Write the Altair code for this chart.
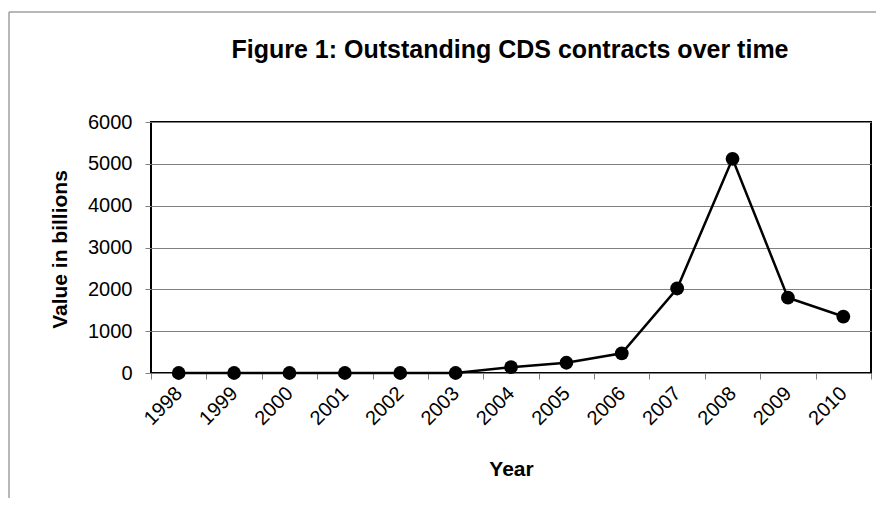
import altair as alt
import pandas as pd

years = ["1998", "1999", "2000", "2001", "2002", "2003", "2004",
         "2005", "2006", "2007", "2008", "2009", "2010"]
values = [0, 0, 0, 0, 0, 0, 140, 245, 470, 2020, 5120, 1800, 1350]
y_ticks = [0, 1000, 2000, 3000, 4000, 5000, 6000]
title_text = "Figure 1: Outstanding CDS contracts over time"

df = pd.DataFrame({"Year": years, "Value": values})

FONT = "Liberation Sans"

x_enc = alt.X(
    "Year:O",
    sort=years,
    bandPosition=0.5,
    scale=alt.Scale(type="band", paddingInner=0, paddingOuter=0),
    axis=alt.Axis(
        title="Year",
        titleFont=FONT, titleFontSize=21, titleFontWeight="bold", titleColor="black",
        titleX=360, titleY=102, titleBaseline="alphabetic", titleAlign="center",
        labelFont=FONT, labelFontSize=20, labelColor="black",
        labelAngle=315, labelAlign="right", labelBaseline="middle",
        labelPadding=11, tickSize=6, tickColor="#808080", tickWidth=1,
        tickBand="extent", domain=False, grid=False,
    ),
)
y_enc = alt.Y(
    "Value:Q",
    scale=alt.Scale(domain=[0, 6000], nice=False),
    axis=alt.Axis(
        title="Value in billions",
        values=y_ticks, format="d",
        titleFont=FONT, titleFontSize=21, titleFontWeight="bold", titleColor="black",
        titleAngle=270, titleX=-85, titleY=127, titleBaseline="alphabetic", titleAlign="center",
        labelFont=FONT, labelFontSize=20, labelColor="black",
        labelPadding=13, tickSize=6, tickColor="#808080", tickWidth=1,
        domain=False, grid=True, gridColor="#808080", gridWidth=1,
    ),
)

line = alt.Chart(df).mark_line(color="black", strokeWidth=2.5).encode(x=x_enc, y=y_enc)
points = alt.Chart(df).mark_circle(color="black", size=190, opacity=1).encode(
    x=alt.X("Year:O", sort=years, bandPosition=0.5), y="Value:Q"
)

one = alt.Data(values=[{}])
frame_left = alt.Chart(one).mark_rule(color="#a0a0a0", strokeWidth=1.5).encode(
    x=alt.value(-142), y=alt.value(-110), y2=alt.value(400)
)
frame_top = alt.Chart(one).mark_rule(color="#a0a0a0", strokeWidth=1.5).encode(
    x=alt.value(-142), x2=alt.value(740), y=alt.value(-110)
)
title = alt.Chart(one).mark_text(
    text=title_text, font=FONT, fontSize=25, fontWeight="bold", color="black",
    align="center", baseline="alphabetic",
).encode(x=alt.value(359), y=alt.value(-64))

chart = alt.layer(frame_left, frame_top, title, line, points).properties(
    width=720,
    height=251,
    padding={"left": 143, "top": 114, "right": 5, "bottom": 125},
    autosize=alt.AutoSizeParams(type="none"),
    background="white",
).configure_view(stroke="black", strokeWidth=2)

chart.save("out.html", embed_options={"renderer": "svg", "actions": False})
